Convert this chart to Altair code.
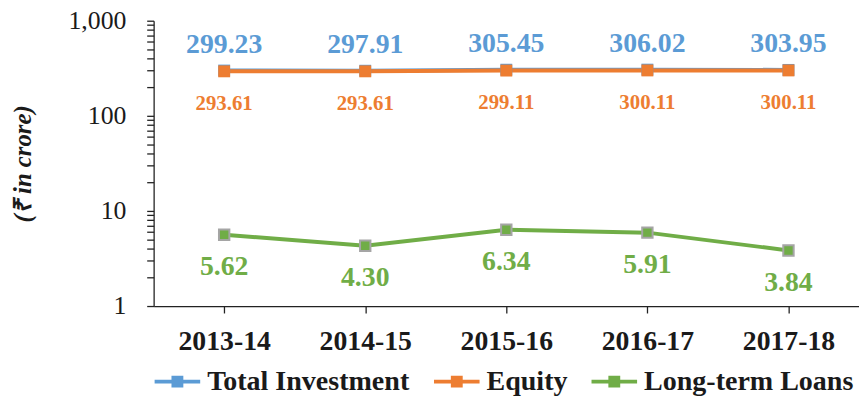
import altair as alt
import pandas as pd

years = ["2013-14", "2014-15", "2015-16", "2016-17", "2017-18"]
total_investment = [299.23, 297.91, 305.45, 306.02, 303.95]
equity = [293.61, 293.61, 299.11, 300.11, 300.11]
long_term_loans = [5.62, 4.30, 6.34, 5.91, 3.84]

series_names = ["Total Investment", "Equity", "Long-term Loans"]
series_colors = ["#5B9BD5", "#ED7D31", "#70AD47"]
y_tick_values = [1, 2, 3, 4, 5, 6, 7, 8, 9,
                 10, 20, 30, 40, 50, 60, 70, 80, 90,
                 100, 200, 300, 400, 500, 600, 700, 800, 900, 1000]

rows = []
for name, vals in zip(series_names, [total_investment, equity, long_term_loans]):
    for yr, v in zip(years, vals):
        rows.append({"year": yr, "series": name, "value": v})
df = pd.DataFrame(rows)

FONT = "Liberation Serif"
legend_path = "M-1,-0.085H1V0.085H-1Z M-0.26,-0.26H0.26V0.26H-0.26Z"

color = alt.Color(
    "series:N",
    scale=alt.Scale(domain=series_names, range=series_colors),
    legend=alt.Legend(
        title=None, orient="none", direction="horizontal",
        legendX=1, legendY=341,
        symbolType=legend_path, symbolSize=46 * 46, symbolStrokeWidth=0,
        symbolOpacity=1,
        labelFont=FONT, labelFontSize=28.3, labelFontWeight="bold", labelColor="#1a1a1a",
        labelLimit=400, labelOffset=7, columnPadding=24, padding=0,
    ),
)

x = alt.X(
    "year:O", sort=years,
    scale=alt.Scale(type="point", padding=0.5),
    axis=alt.Axis(title=None, labelAngle=0, labelFont=FONT, labelFontSize=28,
                  labelFontWeight="bold", labelColor="#1a1a1a", domainColor="#222",
                  domainWidth=1.3, tickColor="#222", tickWidth=1.3, tickSize=7,
                  labelPadding=15),
)
y = alt.Y(
    "value:Q",
    scale=alt.Scale(type="log", domain=[1, 1000]),
    axis=alt.Axis(
        title="(₹ in crore)", values=y_tick_values, format=",d",
        labelExpr="indexof([1, 10, 100, 1000], datum.value) >= 0 ? datum.label : ''",
        labelFont=FONT, labelFontSize=26, labelColor="#1a1a1a", labelPadding=21,
        domainColor="#222", domainWidth=1.3, tickColor="#222", tickWidth=1.3, tickSize=7,
        grid=False, titleFont=FONT, titleFontSize=25, titleFontStyle="italic",
        titleFontWeight="bold", titleColor="#1a1a1a", titlePadding=33,
    ),
)

base = alt.Chart(df).encode(x=x, y=y, color=color)

label_style = {
    "Total Investment": dict(dy=-26, size=28),
    "Equity": dict(dy=33, size=21),
    "Long-term Loans": dict(dy=33, size=28),
}

layers = []
for name in series_names:
    sub = base.transform_filter(alt.datum.series == name)
    layers.append(sub.mark_line(strokeWidth=4))
for name in series_names:
    sub = base.transform_filter(alt.datum.series == name)
    if name == "Long-term Loans":
        layers.append(sub.mark_square(size=110, opacity=1, stroke="#A5A5A5", strokeWidth=2))
    else:
        layers.append(sub.mark_square(size=144, opacity=1))
for name, col in zip(series_names, series_colors):
    st = label_style[name]
    sub = alt.Chart(df).transform_filter(alt.datum.series == name)
    layers.append(
        sub.mark_text(font=FONT, fontWeight="bold", fontSize=st["size"], dy=st["dy"],
                      color=col, baseline="middle", align="center")
        .encode(x=x, y=y, text=alt.Text("value:Q", format=".2f"))
    )

chart = (
    alt.layer(*layers)
    .properties(width=712, height=288, autosize=alt.AutoSizeParams(type="none"),
                padding={"left": 147, "top": 11, "right": 0, "bottom": 92})
    .configure_view(stroke=None)
)

chart.save("out.html", embed_options={"renderer": "svg", "actions": False})
